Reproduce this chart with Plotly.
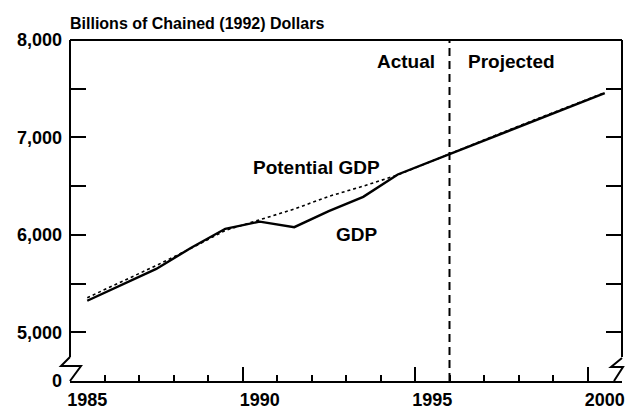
import plotly.graph_objects as go

# ---- data ----
years = list(range(1985, 2001))
gdp = [5324, 5488, 5650, 5865, 6062, 6136, 6079, 6244, 6390, 6620,
       6760, 6900, 7040, 7180, 7320, 7455]
potential_gdp = [5355, 5520, 5685, 5860, 6045, 6155, 6265, 6395, 6500, 6615,
                 6760, 6905, 7045, 7185, 7325, 7460]
y_tick_vals = [4500, 5000, 5500, 6000, 6500, 7000, 7500, 8000]
y_tick_text = ["0", "5,000", "", "6,000", "", "7,000", "", "8,000"]
x_label_vals = [1985, 1990, 1995, 2000]
x_label_text = ["1985", "1990", "1995", "2000"]
major_year_ticks = [1989.5, 1994.5, 1999.5]
actual_projected_split = 1995.5

FONT = "Liberation Sans"
BLACK = "#000000"
XR = [1984.5, 2000.5]
YR = [4500, 8000]

fig = go.Figure()

fig.add_trace(go.Scatter(x=years, y=potential_gdp, mode="lines",
                         line=dict(color=BLACK, width=1.6, dash="dot"),
                         hoverinfo="skip", showlegend=False))
fig.add_trace(go.Scatter(x=years, y=gdp, mode="lines",
                         line=dict(color=BLACK, width=2.4),
                         hoverinfo="skip", showlegend=False))
# helper traces so overlay axes render
fig.add_trace(go.Scatter(x=[XR[0]], y=[None], xaxis="x2", yaxis="y2",
                         mode="lines", hoverinfo="skip", showlegend=False))
fig.add_trace(go.Scatter(x=[XR[0]], y=[None], xaxis="x3", yaxis="y",
                         mode="lines", hoverinfo="skip", showlegend=False))

tickfont = dict(family=FONT, size=18, color=BLACK, weight="bold")

fig.update_layout(
    width=628, height=411,
    margin=dict(l=70, r=6, t=40, b=30, autoexpand=False),
    paper_bgcolor="white", plot_bgcolor="white",
    xaxis=dict(range=XR, showgrid=False, zeroline=False, automargin=False,
               showline=True, linecolor=BLACK, linewidth=2,
               tickmode="linear", tick0=1984.5, dtick=1,
               ticks="inside", ticklen=6, tickwidth=2, tickcolor=BLACK,
               showticklabels=False),
    xaxis2=dict(range=XR, overlaying="x", anchor="y", showgrid=False,
                zeroline=False, showline=False, automargin=False,
                tickmode="array", tickvals=major_year_ticks,
                ticks="inside", ticklen=14, tickwidth=2, tickcolor=BLACK,
                showticklabels=False, side="bottom"),
    xaxis3=dict(range=XR, overlaying="x", anchor="y", showgrid=False,
                zeroline=False, showline=False, side="bottom",
                automargin=False,
                tickmode="array", tickvals=x_label_vals, ticktext=x_label_text,
                ticks="", ticklabelstandoff=6,
                tickfont=dict(family=FONT, size=18, color=BLACK,
                              weight="bold")),
    yaxis=dict(range=YR, showgrid=False, zeroline=False, showline=False,
               automargin=False,
               tickmode="array", tickvals=y_tick_vals, ticktext=y_tick_text,
               ticks="inside", ticklen=16, tickwidth=2, tickcolor=BLACK,
               ticklabelstandoff=7, tickfont=tickfont),
    yaxis2=dict(range=YR, overlaying="y", side="right", anchor="x",
                showgrid=False, zeroline=False, showline=False,
                automargin=False,
                tickmode="array", tickvals=y_tick_vals[1:],
                ticks="inside", ticklen=16, tickwidth=2, tickcolor=BLACK,
                showticklabels=False),
)

# frame (broken axes)
def px2paper(px, py):
    return (px - 70) / 552.0, (381 - py) / 341.0

brk_top = px2paper(70, 357)[1]
line_style = dict(color=BLACK, width=2)
fig.add_shape(type="line", xref="paper", yref="paper", x0=0, x1=0,
              y0=brk_top, y1=1, line=line_style)
fig.add_shape(type="line", xref="paper", yref="paper", x0=1, x1=1,
              y0=brk_top, y1=1, line=line_style)
fig.add_shape(type="line", xref="paper", yref="paper", x0=0, x1=1,
              y0=1, y1=1, line=line_style)

def zig(points):
    pts = [px2paper(a, b) for a, b in points]
    return "M " + " L ".join(f"{x:.4f} {y:.4f}" for x, y in pts)

fig.add_shape(type="path", xref="paper", yref="paper",
              path=zig([(70, 357), (61, 366), (81, 366), (70, 381)]),
              line=line_style)
fig.add_shape(type="path", xref="paper", yref="paper",
              path=zig([(622, 358), (611, 367), (623, 367), (614, 381)]),
              line=line_style)

# actual / projected divider
fig.add_shape(type="line", xref="x", yref="paper",
              x0=actual_projected_split, x1=actual_projected_split,
              y0=0, y1=1, line=dict(color=BLACK, width=2, dash="8px,5px"))

ann_font = dict(family=FONT, size=19, color=BLACK, weight="bold")
fig.add_annotation(text="Billions of Chained (1992) Dollars",
                   xref="paper", yref="paper", x=-0.004, y=1.048,
                   xanchor="left", yanchor="middle", showarrow=False,
                   font=dict(family=FONT, size=16, color=BLACK, weight="bold"))
fig.add_annotation(text="Actual", xref="x", yref="y", x=1995.13, y=7779,
                   xanchor="right", yanchor="middle", showarrow=False,
                   font=ann_font)
fig.add_annotation(text="Projected", xref="x", yref="y", x=1995.98, y=7779,
                   xanchor="left", yanchor="middle", showarrow=False,
                   font=ann_font)
fig.add_annotation(text="Potential GDP", xref="x", yref="y", x=1991.64,
                   y=6691, xanchor="center", yanchor="middle",
                   showarrow=False, font=ann_font)
fig.add_annotation(text="GDP", xref="x", yref="y", x=1992.83, y=6008,
                   xanchor="center", yanchor="middle", showarrow=False,
                   font=ann_font)

fig.write_html("out.html",
               config={"displayModeBar": False},
               post_script="document.body.style.margin='0';"
                           "document.body.style.padding='0';")
